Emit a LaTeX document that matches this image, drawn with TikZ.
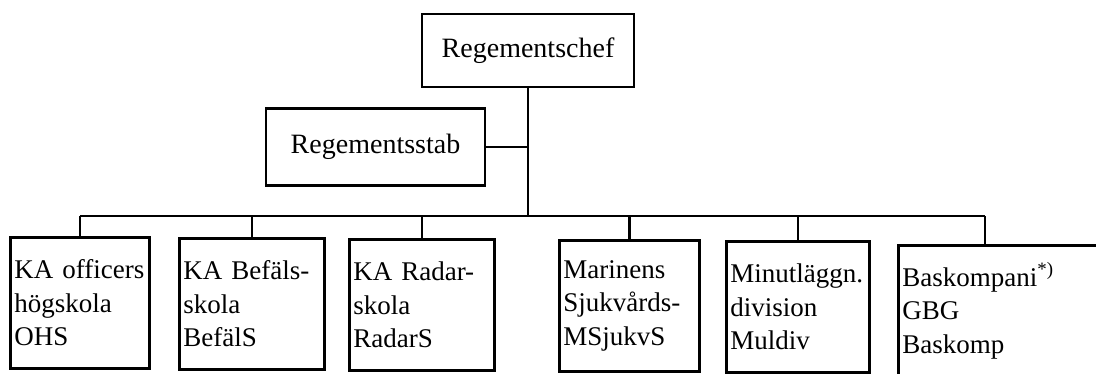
\documentclass[tikz,border=0pt]{standalone}
\usepackage{fontspec}
\setmainfont{Liberation Serif}
\usepackage{tikz}
\usetikzlibrary {
  positioning,
}
\tikzset{
  chart/.style = {
    x = 0.5pt,
    y = -0.5pt,
    line width = 1.3pt
  },
  head/.style = {
    rectangle,
    draw = black,
    line width = 1.3pt,
    inner sep = 0pt,
    font = \fontsize{14}{16.75}\selectfont
  },
  unit/.style = {
    rectangle,
    draw = black,
    line width = 1.3pt,
    anchor = north west,
    align = left,
    inner xsep = 2pt,
    inner ysep = 0pt,
    minimum height = 65.5pt,
    text width = #1,
    font = \fontsize{13.5}{16.75}\selectfont
  },
  line/.style = {
    -,
    line width = 1.3pt
  },
}

\begin{document}
\begin{tikzpicture}[chart]
  \useasboundingbox (0,0) rectangle (1096,374);
  % top of the chart
  \node[head, minimum width = 106pt, minimum height = 36.5pt] (chef) at (528,50.5) {Regementschef};
  \node[head, minimum width = 109.5pt, minimum height = 38.5pt] (stab) at (375.5,147) {Regementsstab};
  \coordinate (bus) at (0,216);
  % units
  \node[unit = 65.5pt] (ohs) at (9,236) {KA~officers\\högskola\\OHS};
  \node[unit = 68.5pt] (befals) at (178,237) {KA Befäls-\\skola\\BefälS};
  \node[unit = 68.5pt] (radars) at (348,238) {KA Radar-\\skola\\RadarS};
  \node[unit = 66pt] (msjukvs) at (558,239) {Marinens\\Sjukvårds-\\MSjukvS};
  \node[unit = 67.5pt] (muldiv) at (725,240) {Minutläggn.\\division\\Muldiv};
  \node[unit = 106pt] (baskomp) at (897,244) {Baskompani\textsuperscript{*)}\\GBG\\Baskomp};
  \coordinate (s6) at ([xshift = 44pt]baskomp.north west);
  % lines
  \draw[line] (chef.south) -- (chef.south |- bus);
  \draw[line] (stab.east) -- (stab.east -| chef.south);
  \draw[line] (ohs.north |- bus) -- (s6 |- bus);
  \draw[line] (ohs.north) -- (ohs.north |- bus);
  \draw[line] (befals.north) -- (befals.north |- bus);
  \draw[line] (radars.north) -- (radars.north |- bus);
  \draw[line] (msjukvs.north) -- (msjukvs.north |- bus);
  \draw[line] (muldiv.north) -- (muldiv.north |- bus);
  \draw[line] (s6) -- (s6 |- bus);
\end{tikzpicture}
\end{document}
